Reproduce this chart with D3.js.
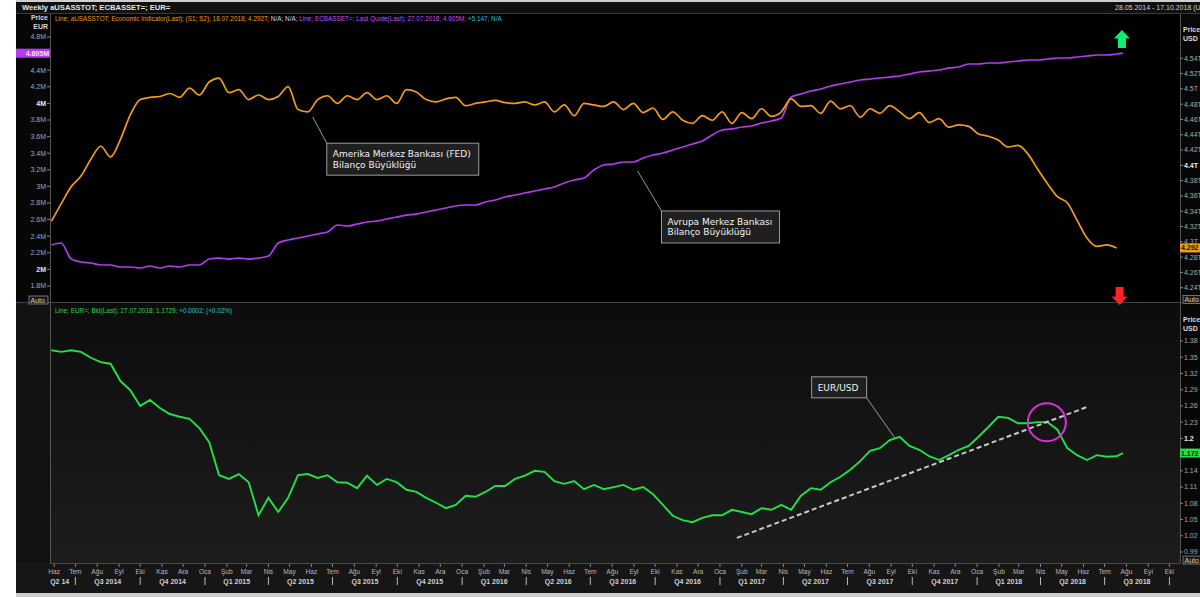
<!DOCTYPE html>
<html><head><meta charset="utf-8">
<script src="https://cdn.jsdelivr.net/npm/d3@7"></script>
<style>body{margin:0;background:#fff;overflow:hidden}svg{display:block;font-family:"Liberation Sans",Arial,sans-serif}</style>
</head><body><svg id="c" width="1200" height="597"></svg>
<script>
// ---------------- DATA ----------------
const seriesStart = "2014-05-28";      // first weekly observation (Wednesday)
const stepDays = 14;                   // sampled every two weeks
const fedLastDate = "2018-07-18";
const lastQuoteDate = "2018-07-27";

// FED total assets (USD trillions, right axis)
const fedValues = [
4.327,4.350,4.372,4.386,4.408,4.425,4.411,4.434,4.466,4.486,
4.489,4.490,4.494,4.489,4.501,4.492,4.509,4.514,4.495,4.499,
4.486,4.492,4.486,4.490,4.503,4.473,4.470,4.486,4.491,4.481,
4.491,4.486,4.495,4.486,4.491,4.481,4.499,4.496,4.486,4.483,
4.487,4.489,4.478,4.481,4.483,4.485,4.482,4.481,4.483,4.479,
4.483,4.470,4.479,4.465,4.481,4.479,4.477,4.483,4.473,4.481,
4.469,4.475,4.460,4.470,4.459,4.455,4.465,4.459,4.470,4.455,
4.469,4.461,4.474,4.464,4.470,4.487,4.477,4.478,4.468,4.484,
4.474,4.478,4.463,4.474,4.468,4.478,4.470,4.461,4.469,4.456,
4.461,4.450,4.453,4.451,4.441,4.438,4.433,4.424,4.426,4.415,
4.395,4.376,4.359,4.351,4.328,4.305,4.294,4.296,4.292];

// ECB total assets (EUR millions, shown in M, left axis)
const ecbValues = [
2.294,2.318,2.125,2.089,2.077,2.053,2.053,2.029,2.029,2.017,
2.041,2.017,2.041,2.029,2.053,2.053,2.125,2.137,2.125,2.137,
2.125,2.137,2.161,2.318,2.354,2.378,2.402,2.427,2.451,2.535,
2.523,2.547,2.571,2.583,2.607,2.631,2.655,2.667,2.692,2.716,
2.740,2.764,2.776,2.776,2.812,2.836,2.872,2.896,2.920,2.945,
2.969,2.993,3.041,3.077,3.101,3.198,3.258,3.270,3.294,3.294,
3.342,3.378,3.402,3.439,3.475,3.511,3.547,3.619,3.680,3.692,
3.716,3.728,3.764,3.788,3.824,4.077,4.113,4.149,4.173,4.210,
4.234,4.258,4.282,4.294,4.306,4.318,4.330,4.354,4.378,4.390,
4.402,4.427,4.439,4.475,4.475,4.487,4.487,4.499,4.511,4.523,
4.523,4.535,4.547,4.547,4.559,4.571,4.583,4.583,4.595];
const ecbLast = 4.605;

// EUR/USD
const eurValues = [
1.363,1.360,1.363,1.360,1.349,1.341,1.338,1.306,1.289,1.260,
1.271,1.256,1.245,1.240,1.236,1.219,1.193,1.132,1.125,1.134,
1.119,1.058,1.090,1.064,1.090,1.132,1.134,1.127,1.132,1.119,
1.118,1.108,1.131,1.114,1.125,1.119,1.105,1.101,1.090,1.081,
1.071,1.077,1.094,1.092,1.101,1.112,1.112,1.125,1.131,1.140,
1.138,1.121,1.116,1.121,1.106,1.114,1.106,1.110,1.114,1.105,
1.110,1.097,1.077,1.057,1.049,1.045,1.053,1.058,1.058,1.068,
1.064,1.060,1.071,1.068,1.077,1.068,1.094,1.108,1.105,1.119,
1.129,1.142,1.158,1.177,1.182,1.197,1.203,1.186,1.179,1.167,
1.160,1.169,1.179,1.186,1.203,1.221,1.240,1.238,1.228,1.228,
1.230,1.230,1.216,1.182,1.169,1.160,1.169,1.166,1.167];
const eurLast = 1.1729;

// axis ticks (ticks hidden under the last-value labels are left out)
const leftTicks = [1.8,2.0,2.2,2.4,2.6,2.8,3.0,3.2,3.4,3.6,3.8,4.0,4.2,4.4,4.8];
const leftBold = [2.0,4.0];
const rightTicks = [4.24,4.26,4.28,4.30,4.32,4.34,4.36,4.38,4.40,4.42,4.44,4.46,4.48,4.50,4.52,4.54];
const rightBold = [4.40];
const fxTicks = [0.99,1.02,1.05,1.08,1.11,1.14,1.20,1.23,1.26,1.29,1.32,1.35,1.38];
const fxBold = [1.20];
const monthNames = ["Oca","Şub","Mar","Nis","May","Haz","Tem","Ağu","Eyl","Eki","Kas","Ara"];

const trendLine = [["2017-01-25",1.016],["2018-06-06",1.258]];
const circleAt = ["2018-04-10",1.230];

// ---------------- SETUP ----------------
const parse = d3.timeParse("%Y-%m-%d");
const t0 = parse(seriesStart);
const dates = fedValues.map((_, i) => d3.timeDay.offset(t0, i * stepDays));
const fedData = fedValues.map((v, i) => ({d: dates[i], v}));
const ecbData = ecbValues.map((v, i) => ({d: dates[i], v})).concat([{d: parse(lastQuoteDate), v: ecbLast}]);
const eurData = eurValues.map((v, i) => ({d: dates[i], v})).concat([{d: parse(lastQuoteDate), v: eurLast}]);

const svg = d3.select("#c");
const W = 1200, H = 597;
const L = 50, R = 1180;
const topB = 302, botT = 303, botB = 563;

const x = d3.scaleTime().domain([new Date(2014,4,26), new Date(2018,9,16)]).range([L, R]);
const yL = d3.scaleLinear().domain([1.8, 4.8]).range([286, 37]);
const yR = d3.scaleLinear().domain([4.24, 4.54]).range([287.7, 58.3]);
const yB = d3.scaleLinear().domain([0.99, 1.38]).range([552, 341]);

const defs = svg.append("defs");
const g1 = defs.append("linearGradient").attr("id","botbg").attr("x1",0).attr("y1",0).attr("x2",0).attr("y2",1);
g1.append("stop").attr("offset","0%").attr("stop-color","#0d0d0d");
g1.append("stop").attr("offset","100%").attr("stop-color","#1d1d1d");

// backgrounds
svg.append("rect").attr("width",W).attr("height",H).attr("fill","#fff");
svg.append("rect").attr("x",16).attr("y",0).attr("width",W-16).attr("height",H).attr("fill","#070707");
svg.append("rect").attr("x",16).attr("y",0).attr("width",W-16).attr("height",2).attr("fill","#cfcfcf");
svg.append("rect").attr("x",16).attr("y",2).attr("width",W-16).attr("height",11).attr("fill","#101010");
svg.append("line").attr("x1",16).attr("x2",W).attr("y1",13.5).attr("y2",13.5).attr("stroke","#3a3a3a");
svg.append("rect").attr("x",L).attr("y",14).attr("width",R-L).attr("height",topB-14).attr("fill","#000");
svg.append("rect").attr("x",L).attr("y",botT).attr("width",R-L).attr("height",botB-botT).attr("fill","url(#botbg)");
svg.append("rect").attr("x",16).attr("y",botT).attr("width",L-16).attr("height",botB-botT).attr("fill","#121212");
svg.append("rect").attr("x",16).attr("y",botB).attr("width",W-16).attr("height",30).attr("fill","#161616");
svg.append("rect").attr("x",16).attr("y",593).attr("width",W-16).attr("height",4).attr("fill","#cdcdcd");
svg.append("line").attr("x1",16).attr("x2",W).attr("y1",302.5).attr("y2",302.5).attr("stroke","#444");
svg.append("line").attr("x1",L).attr("x2",R).attr("y1",botB+0.5).attr("y2",botB+0.5).attr("stroke","#4a4a4a");
svg.append("line").attr("x1",L+0.5).attr("x2",L+0.5).attr("y1",14).attr("y2",botB).attr("stroke","#555");
svg.append("line").attr("x1",R+0.5).attr("x2",R+0.5).attr("y1",14).attr("y2",botB).attr("stroke","#555");

// header
svg.append("text").attr("x",22).attr("y",10).attr("fill","#e6e6e6").attr("font-size",7.6).attr("font-weight","bold")
  .text("Weekly aUSASSTOT; ECBASSET=; EUR=");
svg.append("text").attr("x",1115).attr("y",10).attr("fill","#cfcfcf").attr("font-size",7)
  .text("28.05.2014 - 17.10.2018 (USD)");

// legends
const leg1 = svg.append("text").attr("x",55).attr("y",21).attr("font-size",6.4);
leg1.append("tspan").attr("fill","#f09a1a").text("Line; aUSASSTOT; Economic Indicator(Last); (S1; S2);  18.07.2018; 4.292T; ");
leg1.append("tspan").attr("fill","#dddddd").text("N/A; N/A; ");
leg1.append("tspan").attr("fill","#c050ff").text("Line; ECBASSET=; Last Quote(Last); 27.07.2018; 4.605M; ");
leg1.append("tspan").attr("fill","#20c8c8").text("+5,147; N/A");
const leg2 = svg.append("text").attr("x",55).attr("y",313).attr("font-size",6.4);
leg2.append("tspan").attr("fill","#30d050").text("Line; EUR=; Bid(Last);  27.07.2018;  1.1729;  ");
leg2.append("tspan").attr("fill","#20c8c8").text("+0.0002; (+0.02%)");

// axis titles
function title(xp, yp, anchor, lines){
  lines.forEach((s,i)=>svg.append("text").attr("x",xp).attr("y",yp+i*9).attr("text-anchor",anchor)
    .attr("fill","#d8d8d8").attr("font-size",7).attr("font-weight","bold").text(s));
}
title(48, 19.5, "end", ["Price","EUR"]);
title(1183, 31.5, "start", ["Price","USD"]);
title(1183, 322, "start", ["Price","USD"]);

const trim = v => (+v.toFixed(3)).toString();

// left axis
leftTicks.forEach(v=>{
  const yy = yL(v);
  svg.append("line").attr("x1",47).attr("x2",50).attr("y1",yy).attr("y2",yy).attr("stroke","#888");
  const b = leftBold.includes(v);
  svg.append("text").attr("x",46).attr("y",yy+2.4).attr("text-anchor","end").attr("font-size",7)
    .attr("font-weight", b ? "bold":"normal").attr("fill", b ? "#e8e8e8":"#a8a8a8").text(trim(v)+"M");
});
// right axis top
rightTicks.forEach(v=>{
  const yy = yR(v);
  svg.append("line").attr("x1",1180).attr("x2",1183).attr("y1",yy).attr("y2",yy).attr("stroke","#888");
  const b = rightBold.includes(v);
  svg.append("text").attr("x",1184).attr("y",yy+2.4).attr("font-size",7)
    .attr("font-weight", b ? "bold":"normal").attr("fill", b ? "#e8e8e8":"#a8a8a8").text(trim(v)+"T");
});
// right axis bottom
fxTicks.forEach(v=>{
  const yy = yB(v);
  svg.append("line").attr("x1",1180).attr("x2",1183).attr("y1",yy).attr("y2",yy).attr("stroke","#888");
  const b = fxBold.includes(v);
  svg.append("text").attr("x",1184).attr("y",yy+2.4).attr("font-size",7)
    .attr("font-weight", b ? "bold":"normal").attr("fill", b ? "#e8e8e8":"#a8a8a8").text(trim(v));
});

// Auto boxes
function autoBox(xp, yp){
  svg.append("rect").attr("x",xp).attr("y",yp).attr("width",19).attr("height",8).attr("fill","#1a1a1a").attr("stroke","#9a9a9a").attr("stroke-width",0.7);
  svg.append("text").attr("x",xp+1.5).attr("y",yp+6.5).attr("font-size",7).attr("fill","#cfcfcf").text("Auto");
}
autoBox(29, 296); autoBox(1183, 295.5); autoBox(1183, 556);

// x axis
const months = d3.timeMonth.range(x.domain()[0], x.domain()[1]);
months.forEach(m=>{
  const xx = x(m);
  svg.append("line").attr("x1",xx).attr("x2",xx).attr("y1",botB+1).attr("y2",botB+4).attr("stroke","#888");
  svg.append("text").attr("x",xx).attr("y",574).attr("text-anchor","middle").attr("font-size",6.6)
    .attr("fill","#b8b8b8").text(monthNames[m.getMonth()]);
});
const qStarts = d3.timeMonth.every(3).range(new Date(2014,3,1), new Date(2019,0,2));
qStarts.forEach(q=>{
  const qEnd = d3.timeMonth.offset(q,3);
  const a = Math.max(L, x(q)), b = Math.min(R, x(qEnd));
  if (x(q) > L && x(q) < R) {
    svg.append("line").attr("x1",x(q)).attr("x2",x(q)).attr("y1",577).attr("y2",585).attr("stroke","#bbb").attr("stroke-width",1);
  }
  const wq = b - a;
  const qn = Math.floor(q.getMonth()/3)+1;
  let lab = null;
  if (wq > 45) lab = "Q"+qn+" "+q.getFullYear();
  else if (wq > 20) lab = "Q"+qn+" "+String(q.getFullYear()).slice(2);
  if (lab) svg.append("text").attr("x",(a+b)/2 + (wq<45? -3:0)).attr("y",584).attr("text-anchor","middle").attr("font-size",7)
    .attr("font-weight","bold").attr("fill","#d0d0d0").text(lab);
});

// lines
const lineL = d3.line().x(d=>x(d.d)).y(d=>yL(d.v)).curve(d3.curveMonotoneX);
const lineR = d3.line().x(d=>x(d.d)).y(d=>yR(d.v)).curve(d3.curveMonotoneX);
const lineB = d3.line().x(d=>x(d.d)).y(d=>yB(d.v)).curve(d3.curveLinear);

svg.append("path").datum(ecbData).attr("d",lineL).attr("fill","none").attr("stroke","#b43cf0").attr("stroke-width",1.7);
svg.append("path").datum(fedData).attr("d",lineR).attr("fill","none").attr("stroke","#f39a1e").attr("stroke-width",1.7);
svg.append("path").datum(eurData).attr("d",lineB).attr("fill","none").attr("stroke","#22e048").attr("stroke-width",1.9);

// trend line & circle
svg.append("line").attr("x1",x(parse(trendLine[0][0]))).attr("y1",yB(trendLine[0][1]))
  .attr("x2",x(parse(trendLine[1][0]))).attr("y2",yB(trendLine[1][1]))
  .attr("stroke","#c8c8c8").attr("stroke-width",2).attr("stroke-dasharray","5,3");
svg.append("circle").attr("cx",x(parse(circleAt[0]))).attr("cy",yB(circleAt[1])).attr("r",19)
  .attr("fill","none").attr("stroke","#d830d8").attr("stroke-width",2);

// value labels on axes
function valLabel(xp, yy, w, fill, txtColor, txt, anchor){
  svg.append("rect").attr("x",xp).attr("y",yy-4.5).attr("width",w).attr("height",9).attr("fill",fill);
  svg.append("text").attr("x", anchor==="end" ? xp+w-1 : xp+1).attr("y",yy+2.5).attr("text-anchor",anchor)
    .attr("font-size",7).attr("font-weight","bold").attr("fill",txtColor).text(txt);
}
valLabel(16, yL(ecbLast), 34, "#b43cf0", "#f4e4ff", "4.605M", "end");
valLabel(1180, yR(4.292), 20, "#f39a1e", "#111", "4.292", "start");
valLabel(1180, yB(eurLast), 20, "#22e048", "#111", "1.172", "start");

// annotations
function annot(ax, ay, bx, by, bw, bh, lines, cornerX, cornerY){
  svg.append("line").attr("x1",ax).attr("y1",ay).attr("x2",cornerX).attr("y2",cornerY).attr("stroke","#bdbdbd").attr("stroke-width",0.8);
  svg.append("rect").attr("x",bx).attr("y",by).attr("width",bw).attr("height",bh).attr("fill","#1f1f1f").attr("stroke","#a8a8a8").attr("stroke-width",0.9);
  lines.forEach((s,i)=>svg.append("text").attr("x",bx+6).attr("y",by+14+i*10.5).attr("font-size",9)
    .attr("font-family","DejaVu Sans, sans-serif").attr("fill","#f2f2f2").text(s));
}
{
  const ax = x(parse("2015-06-03")), ay = yR(4.463);
  annot(ax, ay, ax+14, ay+26, 152, 32, ["Amerika Merkez Bankası (FED)","Bilanço Büyüklüğü"], ax+14, ay+26);
}
{
  const ax = x(parse("2016-09-06")), ay = yL(3.186);
  annot(ax, ay, ax+24, ay+40, 118, 32, ["Avrupa Merkez Bankası","Bilanço Büyüklüğü"], ax+24, ay+40);
}
{
  const ax = x(parse("2017-09-06")), ay = yB(1.201);
  annot(ax, ay, ax-83, ay-61, 55, 21, ["EUR/USD"], ax-28, ay-40);
}

// arrows
const ex = x(parse(lastQuoteDate));
svg.append("path").attr("d",`M${ex-1},30 L${ex+7},38.5 L${ex+3},38.5 L${ex+3},48 L${ex-5},48 L${ex-5},38.5 L${ex-9},38.5 Z`).attr("fill","#10f070");
const fx = x(parse(fedLastDate))+3;
svg.append("path").attr("d",`M${fx},305 L${fx+8},296.5 L${fx+4},296.5 L${fx+4},287 L${fx-4},287 L${fx-4},296.5 L${fx-8},296.5 Z`).attr("fill","#ff2424");
</script></body></html>
